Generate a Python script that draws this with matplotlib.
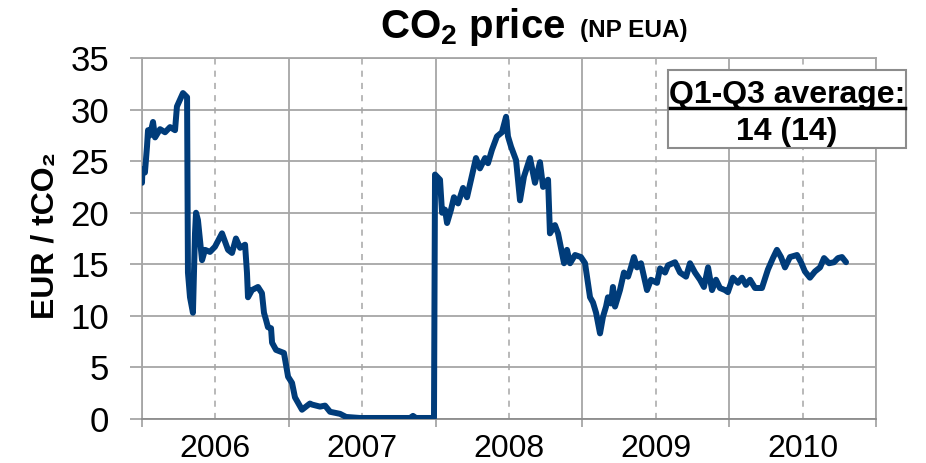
import matplotlib
matplotlib.use("Agg")
import matplotlib.pyplot as plt
from matplotlib.patches import Rectangle
from matplotlib.lines import Line2D
from matplotlib.ticker import NullFormatter, FixedFormatter

plt.rcParams['font.family'] = ['Liberation Sans', 'DejaVu Sans']
plt.rcParams['mathtext.fontset'] = 'custom'
plt.rcParams['mathtext.rm'] = 'Liberation Sans:bold'
plt.rcParams['mathtext.it'] = 'Liberation Sans:bold'
plt.rcParams['mathtext.bf'] = 'Liberation Sans:bold'

# NP EUA daily price (decimal year, EUR/tCO2)
dates = [2006.000, 2006.003, 2006.020, 2006.034, 2006.041, 2006.054, 2006.075, 2006.089,
         2006.123, 2006.157, 2006.191, 2006.225, 2006.238, 2006.279, 2006.307, 2006.313,
         2006.327, 2006.347, 2006.361, 2006.368, 2006.381, 2006.409, 2006.429, 2006.463,
         2006.497, 2006.545, 2006.586, 2006.613, 2006.640, 2006.668, 2006.702, 2006.715,
         2006.722, 2006.749, 2006.790, 2006.817, 2006.831, 2006.845, 2006.858, 2006.879,
         2006.886, 2006.913, 2006.967, 2006.995, 2007.022, 2007.042, 2007.090, 2007.144,
         2007.158, 2007.213, 2007.247, 2007.281, 2007.349, 2007.390, 2007.485, 2007.621,
         2007.757, 2007.826, 2007.846, 2007.866, 2007.989,
         2007.996, 2008.030, 2008.044, 2008.064, 2008.078, 2008.105, 2008.125, 2008.153,
         2008.187, 2008.214, 2008.241, 2008.275, 2008.302, 2008.337, 2008.357, 2008.384,
         2008.418, 2008.452, 2008.480, 2008.493, 2008.514, 2008.548, 2008.575, 2008.602,
         2008.643, 2008.677, 2008.711, 2008.732, 2008.766, 2008.779, 2008.813, 2008.834,
         2008.875, 2008.895, 2008.916, 2008.950, 2008.990,
         2009.018, 2009.052, 2009.072, 2009.093, 2009.120, 2009.140, 2009.161, 2009.174,
         2009.195, 2009.208, 2009.222, 2009.256, 2009.283, 2009.311, 2009.331, 2009.351,
         2009.372, 2009.399, 2009.440, 2009.467, 2009.508, 2009.529, 2009.563, 2009.583,
         2009.631, 2009.665, 2009.706, 2009.733, 2009.767, 2009.801, 2009.828, 2009.856,
         2009.883, 2009.910, 2009.937, 2009.971, 2009.991,
         2010.025, 2010.060, 2010.087, 2010.114, 2010.142, 2010.176, 2010.223, 2010.264,
         2010.298, 2010.325, 2010.353, 2010.380, 2010.414, 2010.462, 2010.489, 2010.516,
         2010.550, 2010.584, 2010.619, 2010.646, 2010.680, 2010.714, 2010.741, 2010.768,
         2010.796]
prices = [22.9, 24.2, 23.9, 26.4, 28.0, 27.5, 28.8, 27.3,
          28.1, 27.8, 28.3, 28.0, 30.3, 31.6, 31.2, 14.2,
          11.8, 10.3, 18.0, 20.0, 19.3, 15.4, 16.4, 16.2,
          16.7, 18.0, 16.4, 16.1, 17.5, 16.6, 16.9, 14.2,
          11.8, 12.5, 12.8, 12.2, 10.3, 9.6, 8.9, 8.8,
          7.4, 6.7, 6.4, 4.1, 3.5, 2.1, 0.9, 1.5,
          1.4, 1.2, 1.3, 0.7, 0.5, 0.2, 0.1, 0.1,
          0.1, 0.1, 0.3, 0.1, 0.1,
          23.7, 23.2, 20.0, 20.3, 19.0, 20.3, 21.5, 20.9,
          22.4, 21.5, 23.2, 25.3, 24.3, 25.3, 24.8, 26.1,
          27.4, 27.8, 29.3, 27.4, 26.4, 25.1, 21.2, 23.5,
          25.3, 22.9, 24.9, 22.5, 23.2, 18.0, 18.8, 18.0,
          15.1, 16.4, 15.1, 15.9, 15.7,
          15.1, 11.8, 11.3, 10.3, 8.3, 9.9, 10.9, 11.8,
          11.2, 12.8, 10.9, 12.5, 14.2, 13.8, 14.7, 15.7,
          14.7, 15.1, 12.5, 13.5, 13.2, 14.6, 14.2, 14.9,
          15.2, 14.2, 13.8, 15.1, 14.2, 13.5, 12.8, 14.7,
          12.5, 13.5, 12.7, 12.5, 12.3,
          13.7, 13.2, 13.7, 13.0, 13.5, 12.7, 12.7, 14.5,
          15.6, 16.4, 15.7, 14.7, 15.7, 15.9, 15.2, 14.3,
          13.7, 14.3, 14.7, 15.6, 15.1, 15.2, 15.6, 15.7,
          15.2]

years = [2006, 2007, 2008, 2009, 2010, 2011]
year_labels = ['2006', '2007', '2008', '2009', '2010']
avg_text = '14 (14)'

W, H = 926, 463
fx = lambda px: px / W
fy = lambda py: 1 - py / H

fig = plt.figure(figsize=(9.26, 4.63), dpi=100)
ax = fig.add_axes([fx(142), fy(419), 734 / W, 361 / H])

grid_col = '#A6A6A6'
ax.plot(dates, prices, color='#003C7A', lw=4.3, solid_joinstyle='round',
        solid_capstyle='round', zorder=3)

ax.set_xlim(years[0], years[-1])
ax.set_ylim(0, 35)
ax.set_yticks(range(0, 36, 5))
ax.set_xticks(years)
ax.set_xticks([y + 0.5 for y in years[:-1]], minor=True)
ax.xaxis.set_major_formatter(NullFormatter())
ax.xaxis.set_minor_formatter(FixedFormatter(year_labels))

ax.grid(axis='y', color=grid_col, lw=1.3)
ax.grid(axis='x', which='major', color=grid_col, lw=1.3)
ax.grid(axis='x', which='minor', color=grid_col, lw=1.1, ls=(0, (4, 4)))
ax.set_axisbelow(True)

ax.tick_params(axis='y', length=8.6, width=1.3, color=grid_col, pad=15, labelsize=25)
ax.tick_params(axis='x', which='major', length=6, width=1.3, color=grid_col)
ax.tick_params(axis='x', which='minor', length=0, pad=11, labelsize=23)
for s in ax.spines.values():
    s.set_color(grid_col)
    s.set_linewidth(1.3)
ax.spines['bottom'].set_color('#8C8C8C')

# title
fig.text(fx(380), fy(38), 'CO$_2$ price', fontsize=29, fontweight='bold',
         ha='left', va='baseline')
fig.text(fx(580), fy(37), '(NP EUA)', fontsize=17.5, fontweight='bold',
         ha='left', va='baseline')

# y label
fig.text(fx(46), fy(236), 'EUR / tCO₂', fontsize=23, fontweight='bold',
         rotation=90, ha='center', va='center')

# average box
fig.add_artist(Rectangle((fx(668), fy(148)), (906 - 668) / W, (148 - 70) / H,
                         transform=fig.transFigure, facecolor='white',
                         edgecolor='#8C8C8C', lw=1.5, zorder=5))
fig.add_artist(Line2D([fx(670), fx(905)], [fy(108), fy(108)], transform=fig.transFigure,
                      color='black', lw=2.5, zorder=6))
fig.text(fx(787), fy(103), 'Q1-Q3 average:', fontsize=23, fontweight='bold',
         ha='center', va='baseline', zorder=7)
fig.text(fx(787), fy(140), avg_text, fontsize=23, fontweight='bold',
         ha='center', va='baseline', zorder=7)

fig.savefig('out.png', dpi=100)
